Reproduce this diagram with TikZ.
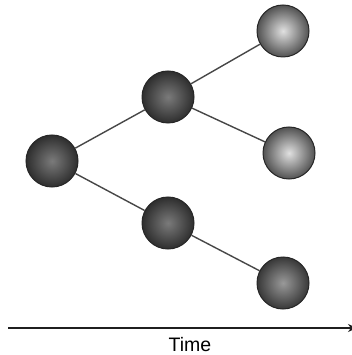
\documentclass[tikz,border=0pt]{standalone}
\usepackage{fontspec}
\setmainfont{Liberation Sans}
\usetikzlibrary{arrows.meta}
\tikzset{
  ball/.style={circle, minimum size=52pt, inner sep=0pt, draw=black!85, line width=1pt},
  darkball/.style={ball, inner color=black!52, outer color=black!82},
  midball/.style={ball, inner color=black!40, outer color=black!78},
  lightball/.style={ball, inner color=black!12, outer color=black!68},
  branch/.style={draw=black!72, line width=1.4pt},
  axis/.style={draw=black!88, line width=2.6pt, -{Stealth[length=9pt,width=8pt]}}
}
\begin{document}
\begin{tikzpicture}[x=1pt, y=-1pt]
  \useasboundingbox[fill=white] (0,0) rectangle (352,355);
  % spheres of the branching tree
  \node[darkball]  (root) at (52,161) {};
  \node[darkball]  (up)   at (168,97) {};
  \node[darkball]  (down) at (168,223) {};
  \node[lightball] (uu)   at (283,31) {};
  \node[lightball] (ud)   at (289,153) {};
  \node[midball]   (dd)   at (283,283) {};
  % branches between the spheres
  \draw[branch] (root) -- (up);
  \draw[branch] (root) -- (down);
  \draw[branch] (up) -- (uu);
  \draw[branch] (up) -- (ud);
  \draw[branch] (down) -- (dd);
  % time axis, its arrow tip running off the right edge
  \coordinate (t0) at (8,328);
  \coordinate (t1) at (357,328);
  \draw[axis] (t0) -- (t1);
  \node[anchor=base, font=\fontsize{19.5}{22}\selectfont] (time) at (190,351) {Time};
\end{tikzpicture}
\end{document}
